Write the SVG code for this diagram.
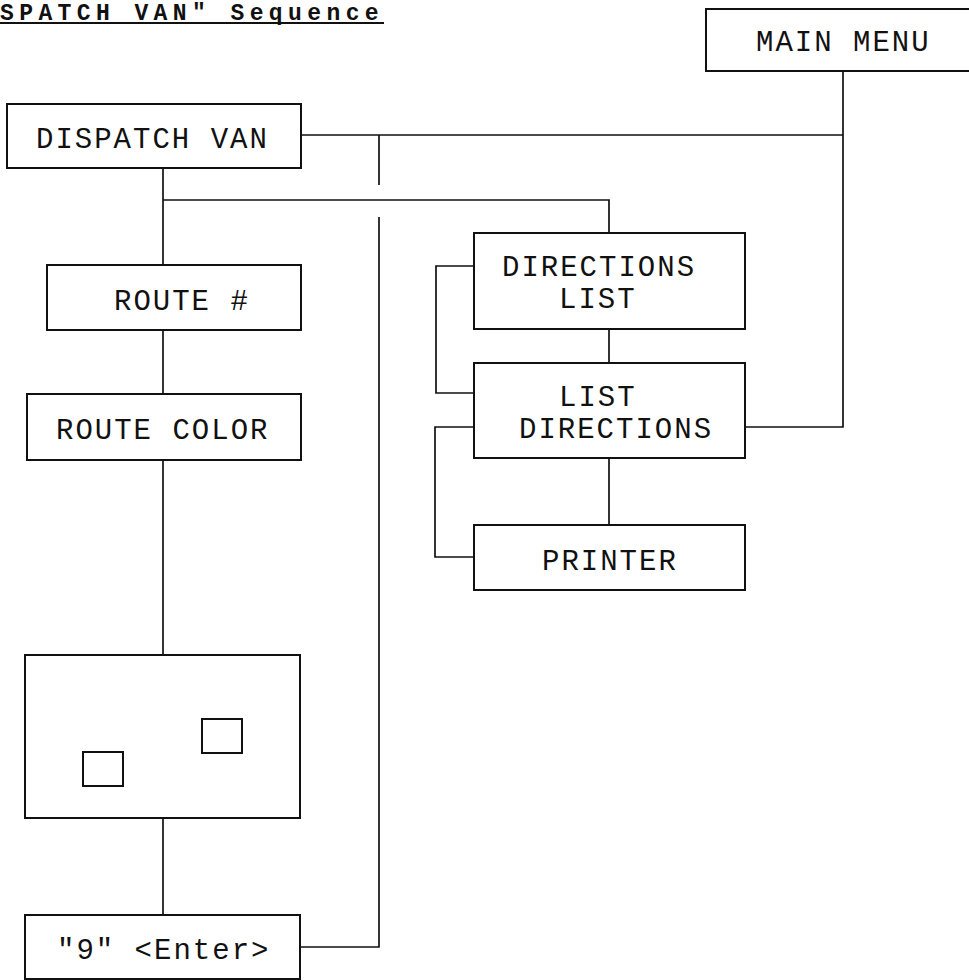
<svg xmlns="http://www.w3.org/2000/svg" width="969" height="980" viewBox="0 0 969 980">
<style>
  .box { fill: #ffffff; stroke: #111; stroke-width: 2; }
  .small { fill: #ffffff; stroke: #111; stroke-width: 2; }
  .lbl { font-family: "Liberation Mono", "DejaVu Sans Mono", monospace; font-size: 29px; letter-spacing: 2px; fill: #111; }
  .title { font-family: "Liberation Mono", "DejaVu Sans Mono", monospace; font-size: 23px; font-weight: bold; letter-spacing: 5.4px; fill: #111; }
  #connectors path { fill: none; stroke: #111; stroke-width: 1.7; }
</style>
<rect width="969" height="980" fill="#ffffff"/>
<g id="title">
  <text class="title" x="0" y="20">SPATCH VAN" Sequence</text>
  <line x1="0" y1="23" x2="384" y2="23" stroke="#111" stroke-width="2"/>
</g>
<g id="connectors">
  <path d="M301,135 H843"/>
  <path d="M843,71 V427 H745"/>
  <path d="M379,135 V185"/>
  <path d="M379,217 V947 H300"/>
  <path d="M163,168 V265"/>
  <path d="M163,200 H609 V233"/>
  <path d="M163,330 V394"/>
  <path d="M163,460 V655"/>
  <path d="M163,818 V915"/>
  <path d="M609,329 V363"/>
  <path d="M609,458 V525"/>
  <path d="M474,266 H436 V393 H474"/>
  <path d="M474,427 H435 V557 H474"/>
</g>
<g id="main-menu">
  <rect class="box" x="706" y="9" width="280" height="62"/>
  <text class="lbl" x="756" y="51">MAIN MENU</text>
</g>
<g id="dispatch-van">
  <rect class="box" x="7" y="104" width="294" height="64"/>
  <text class="lbl" x="36" y="148">DISPATCH VAN</text>
</g>
<g id="route-num">
  <rect class="box" x="47" y="265" width="254" height="65"/>
  <text class="lbl" x="114" y="310">ROUTE #</text>
</g>
<g id="route-color">
  <rect class="box" x="27" y="394" width="274" height="66"/>
  <text class="lbl" x="56" y="439">ROUTE COLOR</text>
</g>
<g id="screen">
  <rect class="box" x="25" y="655" width="275" height="163"/>
  <rect class="small" x="83" y="752" width="40" height="34"/>
  <rect class="small" x="202" y="719" width="40" height="34"/>
</g>
<g id="nine-enter">
  <rect class="box" x="25" y="915" width="275" height="64"/>
  <text class="lbl" x="57" y="959">"9" &lt;Enter&gt;</text>
</g>
<g id="directions-list">
  <rect class="box" x="474" y="233" width="271" height="96"/>
  <text class="lbl" x="502" y="276">DIRECTIONS</text>
  <text class="lbl" x="559" y="308">LIST</text>
</g>
<g id="list-directions">
  <rect class="box" x="474" y="363" width="271" height="95"/>
  <text class="lbl" x="559" y="406">LIST</text>
  <text class="lbl" x="519" y="438">DIRECTIONS</text>
</g>
<g id="printer">
  <rect class="box" x="474" y="525" width="271" height="65"/>
  <text class="lbl" x="542" y="570">PRINTER</text>
</g>
</svg>
